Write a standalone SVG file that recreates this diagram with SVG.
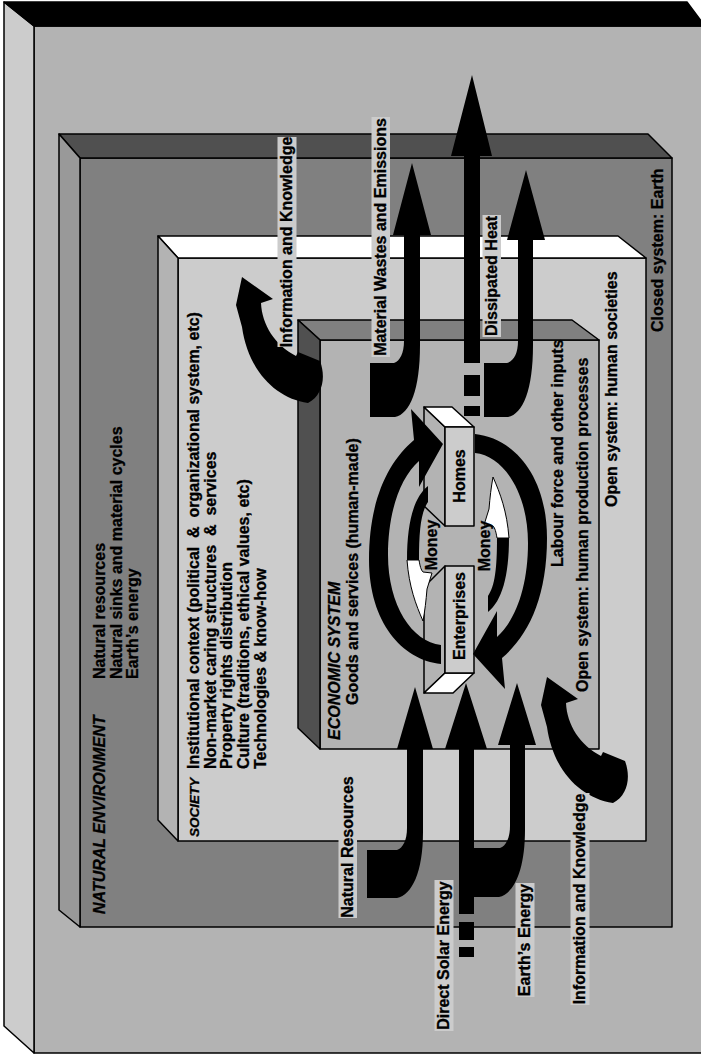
<svg xmlns="http://www.w3.org/2000/svg" width="701" height="1054" viewBox="0 0 701 1054">
<style>
.t{font-family:"Liberation Sans",Arial,sans-serif;font-size:16px;font-weight:bold;fill:#000;stroke:#000;stroke-width:0.3;white-space:pre}
.h{font-style:italic}
.e{stroke:#000;stroke-width:1.5;stroke-linejoin:round}
.k{fill:#000}
.w{fill:#fff;stroke:#000;stroke-width:1}
.lb{fill:#cccccc}
</style>
<rect width="701" height="1054" fill="#fff"/>
<g id="earth">
<rect class="e" x="34" y="26" width="680" height="1027" fill="#b3b3b3"/>
<polygon class="e" points="4,2 34,26 34,1053 4,1026" fill="#cccccc"/>
<polygon class="e" points="4,2 687,2 705,26 34,26" fill="#000"/>
</g>
<g id="natural-environment">
<rect class="e" x="80" y="158" width="592" height="769" fill="#808080"/>
<polygon class="e" points="59,134 648,134 672,158 80,158" fill="#505050"/>
<polygon class="e" points="59,134 80,158 80,927 59,910" fill="#999999"/>
<text class="t h" transform="translate(105,914) rotate(-90)">NATURAL ENVIRONMENT</text>
<text class="t" transform="translate(105,679) rotate(-90)">Natural resources</text>
<text class="t" transform="translate(121.7,679) rotate(-90)">Natural sinks and material cycles</text>
<text class="t" transform="translate(138.4,679) rotate(-90)">Earth’s energy</text>
<text class="t" transform="translate(663,332) rotate(-90)">Closed system: Earth</text>
</g>
<g id="society">
<rect class="e" x="178" y="258" width="468" height="583" fill="#cccccc"/>
<polygon class="e" points="158,236 618,236 646,258 178,258" fill="#ffffff"/>
<polygon class="e" points="158,236 178,258 178,841 158,820" fill="#b3b3b3"/>
<text class="t h" style="font-size:13.5px" transform="translate(199,837) rotate(-90)">SOCIETY</text>
<text class="t" transform="translate(199,769) rotate(-90)">Institutional context (political  &amp;  organizational system, etc)</text>
<text class="t" transform="translate(215.7,769) rotate(-90)">Non-market caring structures  &amp;  services</text>
<text class="t" transform="translate(232.4,769) rotate(-90)">Property rights distribution</text>
<text class="t" transform="translate(249.1,769) rotate(-90)">Culture (traditions, ethical values, etc)</text>
<text class="t" transform="translate(265.8,769) rotate(-90)">Technologies &amp; know-how</text>
<text class="t" transform="translate(617,507) rotate(-90)">Open system: human societies</text>
</g>
<g id="economic-system">
<rect class="e" x="320" y="340" width="279" height="409" fill="#b3b3b3"/>
<polygon class="e" points="298,320 572,320 599,340 320,340" fill="#808080"/>
<polygon class="e" points="298,320 320,340 320,749 298,728" fill="#505050"/>
<text class="t h" transform="translate(340,740) rotate(-90)">ECONOMIC SYSTEM</text>
<text class="t" transform="translate(358,705) rotate(-90)">Goods and services (human-made)</text>
<text class="t" transform="translate(563,567) rotate(-90)">Labour force and other inputs</text>
<text class="t" transform="translate(588,692) rotate(-90)">Open system: human production processes</text>
</g>
<g id="homes">
<polygon class="e" points="424,407 445,427 445,526 424,506" fill="#b3b3b3"/>
<polygon class="e" points="424,407 452,407 474,427 445,427" fill="#ffffff"/>
<rect class="e" x="445" y="427" width="29" height="99" fill="#cccccc"/>
<text class="t" text-anchor="middle" transform="translate(465,476) rotate(-90)">Homes</text>
</g>
<g id="enterprises">
<polygon class="e" points="424,587 445,566 445,673 424,693" fill="#b3b3b3"/>
<polygon class="e" points="424,693 445,673 474,673 453,693" fill="#ffffff"/>
<rect class="e" x="445" y="566" width="29" height="107" fill="#cccccc"/>
<text class="t" text-anchor="middle" transform="translate(465,616) rotate(-90)">Enterprises</text>
</g>
<g id="connectors">
<g id="goods-services">
<path class="k" d="M441,664 C402,660 369,622 369,560 C369,500 388,462 414,440 L411,409 L443,444 L419,487 L419,461 C400,478 388,512 388,555 C388,605 412,642 441,645 Z"/>
</g>
<g id="labour-force">
<path class="k" transform="rotate(180 458 549)" d="M441,664 C402,660 369,622 369,560 C369,500 388,462 414,440 L411,409 L443,444 L419,487 L419,461 C400,478 388,512 388,555 C388,605 412,642 441,645 Z"/>
</g>
<g id="money-1">
<path class="k" d="M428,486 C414,497 407,522 407,560 L419,560 C419,530 421,512 428,502 Z"/>
<path class="w" d="M407,560 L419,560 C420,566 421,570 423,572 L432,573 L427,589 C426,601 425,610 423,621 C416,605 409,587 407,560 Z"/>
<text class="t" text-anchor="middle" transform="translate(437,545) rotate(-90)">Money</text>
</g>
<g id="money-2">
<g transform="rotate(180 458 549)">
<path class="k" d="M428,486 C414,497 407,522 407,560 L419,560 C419,530 421,512 428,502 Z"/>
<path class="w" d="M407,560 L419,560 C420,566 421,570 423,572 L432,573 L427,589 C426,601 425,610 423,621 C416,605 409,587 407,560 Z"/>
</g>
<text class="t" text-anchor="middle" transform="translate(490,546) rotate(-90)">Money</text>
</g>
<g id="natural-resources-in">
<path class="k" d="M367,850 L397,850 C403,848 407,840 407,828 L407,749 L397,749 L415,687 L433,749 L423,749 L423,832 C423,872 412,895 397,898 L367,898 Z"/>
<rect class="lb" x="338.5" y="776" width="18.5" height="142"/>
<text class="t" text-anchor="middle" transform="translate(353,847) rotate(-90)">Natural Resources</text>
</g>
<g id="solar-in">
<path class="k" d="M459,914 L459,749 L445,749 L466,683 L487,749 L474,749 L474,914 Z"/>
<rect class="k" x="459" y="922" width="15" height="18"/>
<rect class="k" x="459" y="947" width="15" height="10"/>
<rect class="lb" x="434.5" y="880" width="19" height="151"/>
<text class="t" text-anchor="middle" transform="translate(449,955.5) rotate(-90)">Direct Solar Energy</text>
</g>
<g id="earth-energy-in">
<path class="k" d="M474,848 L500,848 C506,846 510,838 510,826 L510,745 L498,745 L517,683 L536,745 L525,745 L525,830 C525,870 514,894 499,897 L474,897 Z"/>
<rect class="lb" x="515.5" y="883" width="19" height="114"/>
<text class="t" text-anchor="middle" transform="translate(530,940) rotate(-90)">Earth’s Energy</text>
</g>
<g id="info-in">
<path class="k" d="M547,677 L578,699 L566,703 C567,725 580,745 601,756 L603,752 L625,761 C631,777 628,795 613,803 C580,798 553,770 547,727 L541,705 Z"/>
<rect class="lb" x="570.5" y="793" width="19" height="212"/>
<text class="t" text-anchor="middle" transform="translate(585,899) rotate(-90)">Information and Knowledge</text>
</g>
<g id="info-out">
<path class="k" transform="translate(-305,-400)" d="M547,677 L578,699 L566,703 C567,725 580,745 601,756 L603,752 L625,761 C631,777 628,795 613,803 C580,798 553,770 547,727 L541,705 Z"/>
<rect class="lb" x="277.5" y="137" width="19" height="210"/>
<text class="t" text-anchor="middle" transform="translate(292,242) rotate(-90)">Information and Knowledge</text>
</g>
<g id="wastes-out">
<path class="k" d="M370,363 L394,363 C400,361 404,353 404,341 L404,235 L393,235 L412,163 L431,235 L420,235 L420,345 C420,390 410,414 395,417 L370,417 Z"/>
<rect class="lb" x="371.5" y="117" width="18.5" height="240"/>
<text class="t" text-anchor="middle" transform="translate(386,237) rotate(-90)">Material Wastes and Emissions</text>
</g>
<g id="heat-out">
<path class="k" d="M464,363 L464,156 L451,156 L472,75 L492,156 L480,156 L480,363 Z"/>
<rect class="k" x="464" y="375" width="16" height="21"/>
<rect class="k" x="464" y="406" width="16" height="10"/>
<rect class="lb" x="482.5" y="215" width="18.5" height="122"/>
<text class="t" text-anchor="middle" transform="translate(497,276) rotate(-90)">Dissipated Heat</text>
</g>
<g id="emissions-out-2">
<path class="k" d="M484,363 L507,363 C514,361 518,353 518,341 L518,240 L507,240 L526,170 L545,240 L533,240 L533,345 C533,390 523,414 508,417 L484,417 Z"/>
</g>
</g>
</svg>
